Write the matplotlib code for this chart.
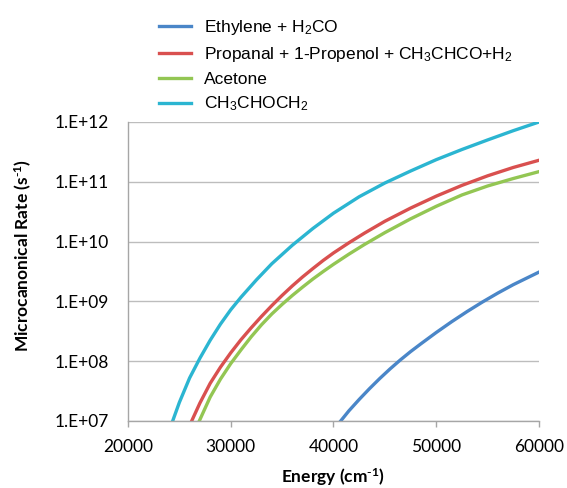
import numpy as np
import matplotlib
matplotlib.use('Agg')
import matplotlib.pyplot as plt
from matplotlib.ticker import FixedLocator, NullLocator

# energies (cm-1) and log10 of the microcanonical rate
e_ethylene = [40700, 41500, 42500, 43500, 44500, 45500, 46500, 47500, 48500,
              50000, 51500, 53000, 54500, 56000, 57500, 60000]
k_ethylene = [7.0, 7.17, 7.36, 7.54, 7.71, 7.87, 8.02, 8.16, 8.29,
              8.48, 8.66, 8.83, 8.99, 9.14, 9.28, 9.49]

e_propanal = [26200, 27000, 28000, 29000, 30000, 31000, 32000, 33000, 34000,
              35000, 36000, 37000, 38000, 39000, 40000, 41500, 43000, 45000,
              47500, 50000, 52500, 55000, 57500, 60000]
k_propanal = [7.0, 7.30, 7.63, 7.90, 8.14, 8.36, 8.56, 8.75, 8.93,
              9.10, 9.26, 9.41, 9.55, 9.685, 9.81, 9.98, 10.14, 10.34,
              10.56, 10.76, 10.94, 11.10, 11.24, 11.36]

e_acetone = [26940, 28000, 29000, 30000, 31000, 32000, 33000, 34000, 35000,
             36000, 37000, 38000, 39000, 40000, 41500, 43000, 45000, 47500,
             50000, 52500, 55000, 57500, 60000]
k_acetone = [7.0, 7.40, 7.70, 7.96, 8.19, 8.41, 8.61, 8.79, 8.95,
             9.10, 9.24, 9.375, 9.50, 9.62, 9.79, 9.95, 10.15, 10.38,
             10.59, 10.78, 10.93, 11.055, 11.17]

e_ch3choch2 = [24350, 25000, 26000, 27000, 28000, 29000, 30000, 31000, 32500,
               34000, 36000, 38000, 40000, 42500, 45000, 47500, 50000, 52500,
               55000, 57500, 60000]
k_ch3choch2 = [7.0, 7.31, 7.72, 8.05, 8.35, 8.62, 8.86, 9.07, 9.36,
               9.63, 9.94, 10.22, 10.475, 10.75, 10.98, 11.18, 11.37, 11.54,
               11.70, 11.855, 12.0]

labels = ['Ethylene + H$_2$CO',
          'Propanal + 1-Propenol + CH$_3$CHCO+H$_2$',
          'Acetone',
          'CH$_3$CHOCH$_2$']
colors = ['#4a86c8', '#d9504f', '#93c653', '#2bb5d1']

x_ticks = [20000, 30000, 40000, 50000, 60000]
y_ticks = [1e7, 1e8, 1e9, 1e10, 1e11, 1e12]
y_ticklabels = ['1.E+07', '1.E+08', '1.E+09', '1.E+10', '1.E+11', '1.E+12']

plt.rcParams['mathtext.default'] = 'regular'

fig = plt.figure(figsize=(5.67, 4.88), dpi=100)
ax = fig.add_axes([0.2257, 0.1373, 0.7249, 0.6127])

series = [(e_ethylene, k_ethylene), (e_propanal, k_propanal),
          (e_acetone, k_acetone), (e_ch3choch2, k_ch3choch2)]
for (e, k), lab, col in zip(series, labels, colors):
    ax.plot(e, 10**np.array(k), color=col, lw=2.4, label=lab,
            solid_joinstyle='round')

ax.set_yscale('log')
ax.set_xlim(20000, 60000)
ax.set_ylim(1e7, 1e12)
ax.yaxis.set_major_locator(FixedLocator(y_ticks))
ax.yaxis.set_minor_locator(NullLocator())
ax.set_yticklabels(y_ticklabels)
ax.set_xticks(x_ticks)
ax.set_xticklabels([str(t) for t in x_ticks])

ax.grid(True, axis='y', color='#bdbdbd', lw=1.0)
ax.set_axisbelow(True)
for s in ['top', 'right']:
    ax.spines[s].set_visible(False)
for s in ['left', 'bottom']:
    ax.spines[s].set_color('#a6a6a6')
    ax.spines[s].set_linewidth(1.0)
ax.tick_params(axis='x', colors='#a6a6a6', labelcolor='black',
               labelsize=12.5, length=4, width=1.0, pad=9)
ax.tick_params(axis='y', colors='#a6a6a6', labelcolor='black',
               labelsize=12.5, length=0, width=1.0, pad=14)
for t in ax.get_xticklabels() + ax.get_yticklabels():
    t.set_family('Lato')

ax.set_xlabel('Energy (cm$^{\\text{-}1}$)', fontsize=12.5, fontweight='bold',
              family='Lato')
ax.set_ylabel('Microcanonical Rate (s$^{\\text{-}1}$)', fontsize=12.5,
              fontweight='bold', family='Lato')
ax.xaxis.set_label_coords(0.5, -0.15)
ax.yaxis.set_label_coords(-0.229, 0.555)

leg = fig.legend(loc='upper left', bbox_to_anchor=(0.252, 0.995),
                 frameon=False, prop={'family': 'Liberation Sans', 'size': 12.5},
                 handlelength=1.9, handletextpad=0.7, labelspacing=0.45)

fig.savefig('out.png', dpi=100)
